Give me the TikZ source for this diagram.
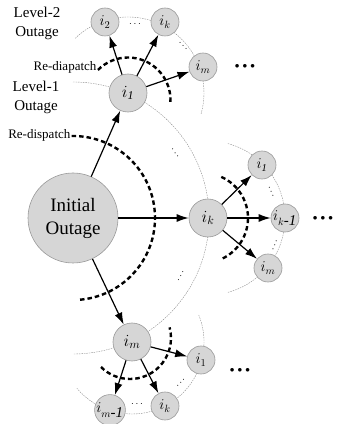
\RequirePackage{fix-cm}
\documentclass[tikz,border=0pt]{standalone}
\usepackage{fontspec}
\setmainfont{Liberation Serif}
\usetikzlibrary{arrows.meta,backgrounds}

\begin{document}
\begin{tikzpicture}[x=1pt, y=1pt, line width=1.2pt, >={Latex[length=12pt,width=8pt]},
    main/.style = {draw=black!40, fill=black!16, circle, line width=0.6pt, inner sep=0pt},
    big/.style = {main, minimum size=90pt, align=center, font=\fontsize{19}{23}\selectfont},
    lone/.style = {main, minimum size=38pt, font=\fontsize{17}{17}\selectfont},
    ltwo/.style = {main, minimum size=28pt, font=\fontsize{15}{15}\selectfont},
    ring/.style = {draw=black!45, line width=0.4pt, dash pattern=on 1.5pt off 1pt},
    redisp/.style = {line width=2.4pt, dash pattern=on 4.5pt off 3pt},
    lbl/.style = {align=center, font=\fontsize{15}{19}\selectfont},
    note/.style = {anchor=east, inner sep=0pt, font=\fontsize{13}{13}\selectfont},
    more/.style = {font=\fontsize{9}{9}\selectfont},
    gap/.style = {inner sep=0pt, font=\fontsize{10}{10}\selectfont}]
    \useasboundingbox (0,0) rectangle (338,424);
    \node[big] (0) at (73,206) {Initial\\Outage};
    \node[lone] (1) at (128,331) {$i_{\mathit{1}}$};
    \node[lone] (2) at (208,206) {$i_k$};
    \node[lone] (3) at (132,82) {$i_m$};
    \node[ltwo] (11) at (105,402) {$i_2$};
    \node[ltwo] (12) at (165,402) {$i_k$};
    \node[ltwo] (13) at (203,357) {$i_m$};
    \node[ltwo] (21) at (262,259) {$i_{\mathit{1}}$};
    \node[ltwo] (22) at (285,206) {$i_{k\textit{-1}}$};
    \node[ltwo] (23) at (268,156) {$i_m$};
    \node[ltwo] (31) at (201,64) {$i_1$};
    \node[ltwo] (32) at (165,18) {$i_k$};
    \node[ltwo] (33) at (110,14) {$i_{m\textit{-1}}$};
    %labels
    \node[lbl] (l2) at (37,401) {Level-2\\Outage};
    \node[lbl] (l1) at (36,327) {Level-1\\Outage};
    \node[note] (r2) at (97,357) {Re-diapatch};
    \node[note] (r1) at (71,289) {Re-dispatch};
    \node[more] (m1) at (245,358) {$\bullet\mkern2mu\bullet\mkern2mu\bullet$};
    \node[more] (m2) at (323,206) {$\bullet\mkern2mu\bullet\mkern2mu\bullet$};
    \node[more] (m3) at (240,54) {$\bullet\mkern2mu\bullet\mkern2mu\bullet$};
    \node[gap] (g1) at (135,400) {$\cdots$};
    \node[gap, rotate=-49] (g2) at (183,378) {$\cdots$};
    \node[gap, rotate=-67] (g3) at (271,232) {$\cdots$};
    \node[gap, rotate=68] (g4) at (275,179) {$\cdots$};
    \node[gap, rotate=50] (g5) at (181,41) {$\cdots$};
    \node[gap] (g6) at (137,20) {$\cdots$};
    \node[gap, rotate=-57] (g7) at (175,271) {$\cdots$};
    \node[gap, rotate=62] (g8) at (181,148) {$\cdots$};
    %rings
    \begin{scope}[on background layer]
        \draw[ring] ([shift={(90:136)}]0.center) arc[start angle=90, end angle=-90, radius=136];
        \draw[ring] ([shift={(134:76)}]1.center) arc[start angle=134, end angle=-16, radius=76];
        \draw[ring] ([shift={(75:77)}]2.center) arc[start angle=75, end angle=-75, radius=77];
        \draw[ring] ([shift={(22:72)}]3.center) arc[start angle=22, end angle=-140, radius=72];
    \end{scope}
    %Re-dispatch
    \draw[redisp] ([shift={(91:82)}]0.center) arc[start angle=91, end angle=-87, radius=82];
    \draw[redisp] ([yshift=-7pt]1.center) ++(135:42.5) arc[start angle=135, end angle=-4, radius=42.5];
    \draw[redisp] ([xshift=-5pt]2.center) ++(66:45) arc[start angle=66, end angle=-66, radius=45];
    \draw[redisp] ([shift={(-2pt,4pt)}]3.center) ++(-135:41) arc[start angle=-135, end angle=15, radius=41];
    %Outages
    \draw[->] (0) to (1);
    \draw[->] (0) to (2);
    \draw[->] (0) to (3);
    \draw[->] (1) to (11);
    \draw[->] (1) to (12);
    \draw[->] (1) to (13);
    \draw[->] (2) to (21);
    \draw[->] (2) to (22);
    \draw[->] (2) to (23);
    \draw[->] (3) to (31);
    \draw[->] (3) to (32);
    \draw[->] (3) to (33);
\end{tikzpicture}
\end{document}
